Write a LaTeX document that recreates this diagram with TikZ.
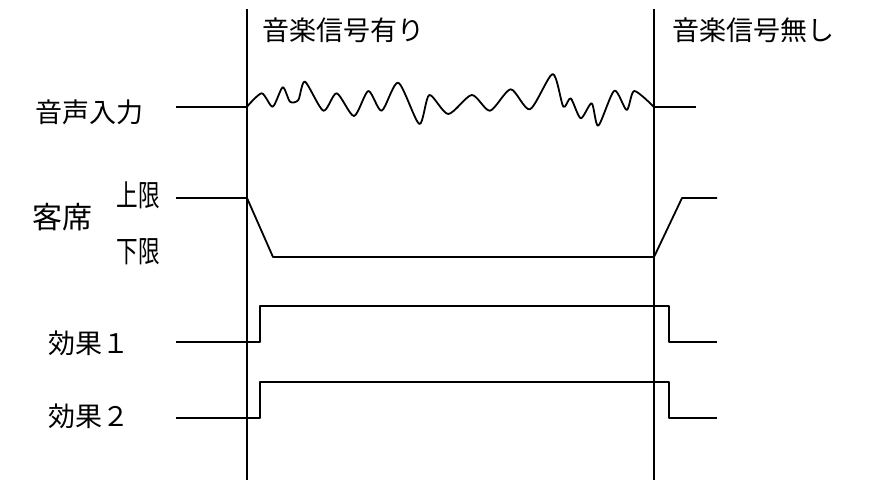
\documentclass[tikz,border=0pt]{standalone}
\usepackage{fontspec}
\newfontfamily\jp{Noto Sans CJK JP}
\begin{document}
\begin{tikzpicture}[x=1pt,y=-1pt,
  sig/.style={line width=1.8pt,line join=round},
  lbl/.style={font=\jp\fontsize{27}{30}\selectfont,inner sep=0pt},
  blbl/.style={font=\jp\fontsize{30}{32}\selectfont,inner sep=0pt},
  slbl/.style={font=\jp\fontsize{30}{32}\selectfont,inner sep=0pt}]
\useasboundingbox (0,0) rectangle (874,481);
% vertical boundaries
\coordinate (vLt) at (247,9);
\coordinate (vLb) at (247,480);
\coordinate (vRt) at (654,9);
\coordinate (vRb) at (654,480);
\draw[sig] (vLt) -- (vLb);
\draw[sig] (vRt) -- (vRb);
% headers
\node[lbl,anchor=west] (h1) at (262,30) {音楽信号有り};
\node[lbl,anchor=west] (h2) at (672,30) {音楽信号無し};
% audio input
\node[lbl] (la) at (89,112) {音声入力};
\coordinate (a0) at (176,107);
\coordinate (a1) at (247,107);
\coordinate (a2) at (654,107);
\coordinate (a3) at (696,107);
\draw[sig] (a0) -- (a1);
\draw[sig] (a2) -- (a3);
\draw[sig] plot[smooth,tension=0.45] coordinates {(247,106.7) (261.7,93.3) (272.7,106.7) (282.7,87.3) (290,101.7) (298.3,100) (305,81.7) (323.3,110.7) (336.7,93.3) (354,116) (368.3,91) (381.7,110.7) (398.3,82.7) (419.3,124) (429.3,95) (448.3,114) (471.7,95) (490,110.7) (510.7,89.3) (530,109.3) (552.7,74) (563.3,106.7) (570.7,98.3) (580.7,118.3) (591.7,103.3) (598.3,125.7) (614.3,90.7) (626.7,110) (634.3,91) (654,107)};
% audience
\node[blbl] (lk) at (62,217) {客席};
\node[slbl] (lu) at (138,195) {\scalebox{0.72}[1]{上限}};
\node[slbl] (ld) at (138,252) {\scalebox{0.72}[1]{下限}};
\coordinate (k0) at (176,198);
\coordinate (k1) at (247,198);
\coordinate (k2) at (273,257);
\coordinate (k3) at (654,257);
\coordinate (k4) at (682,198);
\coordinate (k5) at (717,198);
\draw[sig] (k0) -- (k1) -- (k2) -- (k3) -- (k4) -- (k5);
% effect 1
\node[lbl] (le1) at (89,343) {効果１};
\coordinate (e10) at (176,342);
\coordinate (e11) at (260,342);
\coordinate (e12) at (260,306);
\coordinate (e13) at (669,306);
\coordinate (e14) at (669,342);
\coordinate (e15) at (717,342);
\draw[sig] (e10) -- (e11) -- (e12) -- (e13) -- (e14) -- (e15);
% effect 2
\node[lbl] (le2) at (89,416) {効果２};
\coordinate (e20) at (176,418);
\coordinate (e21) at (260,418);
\coordinate (e22) at (260,382);
\coordinate (e23) at (669,382);
\coordinate (e24) at (669,418);
\coordinate (e25) at (717,418);
\draw[sig] (e20) -- (e21) -- (e22) -- (e23) -- (e24) -- (e25);
\end{tikzpicture}
\end{document}
